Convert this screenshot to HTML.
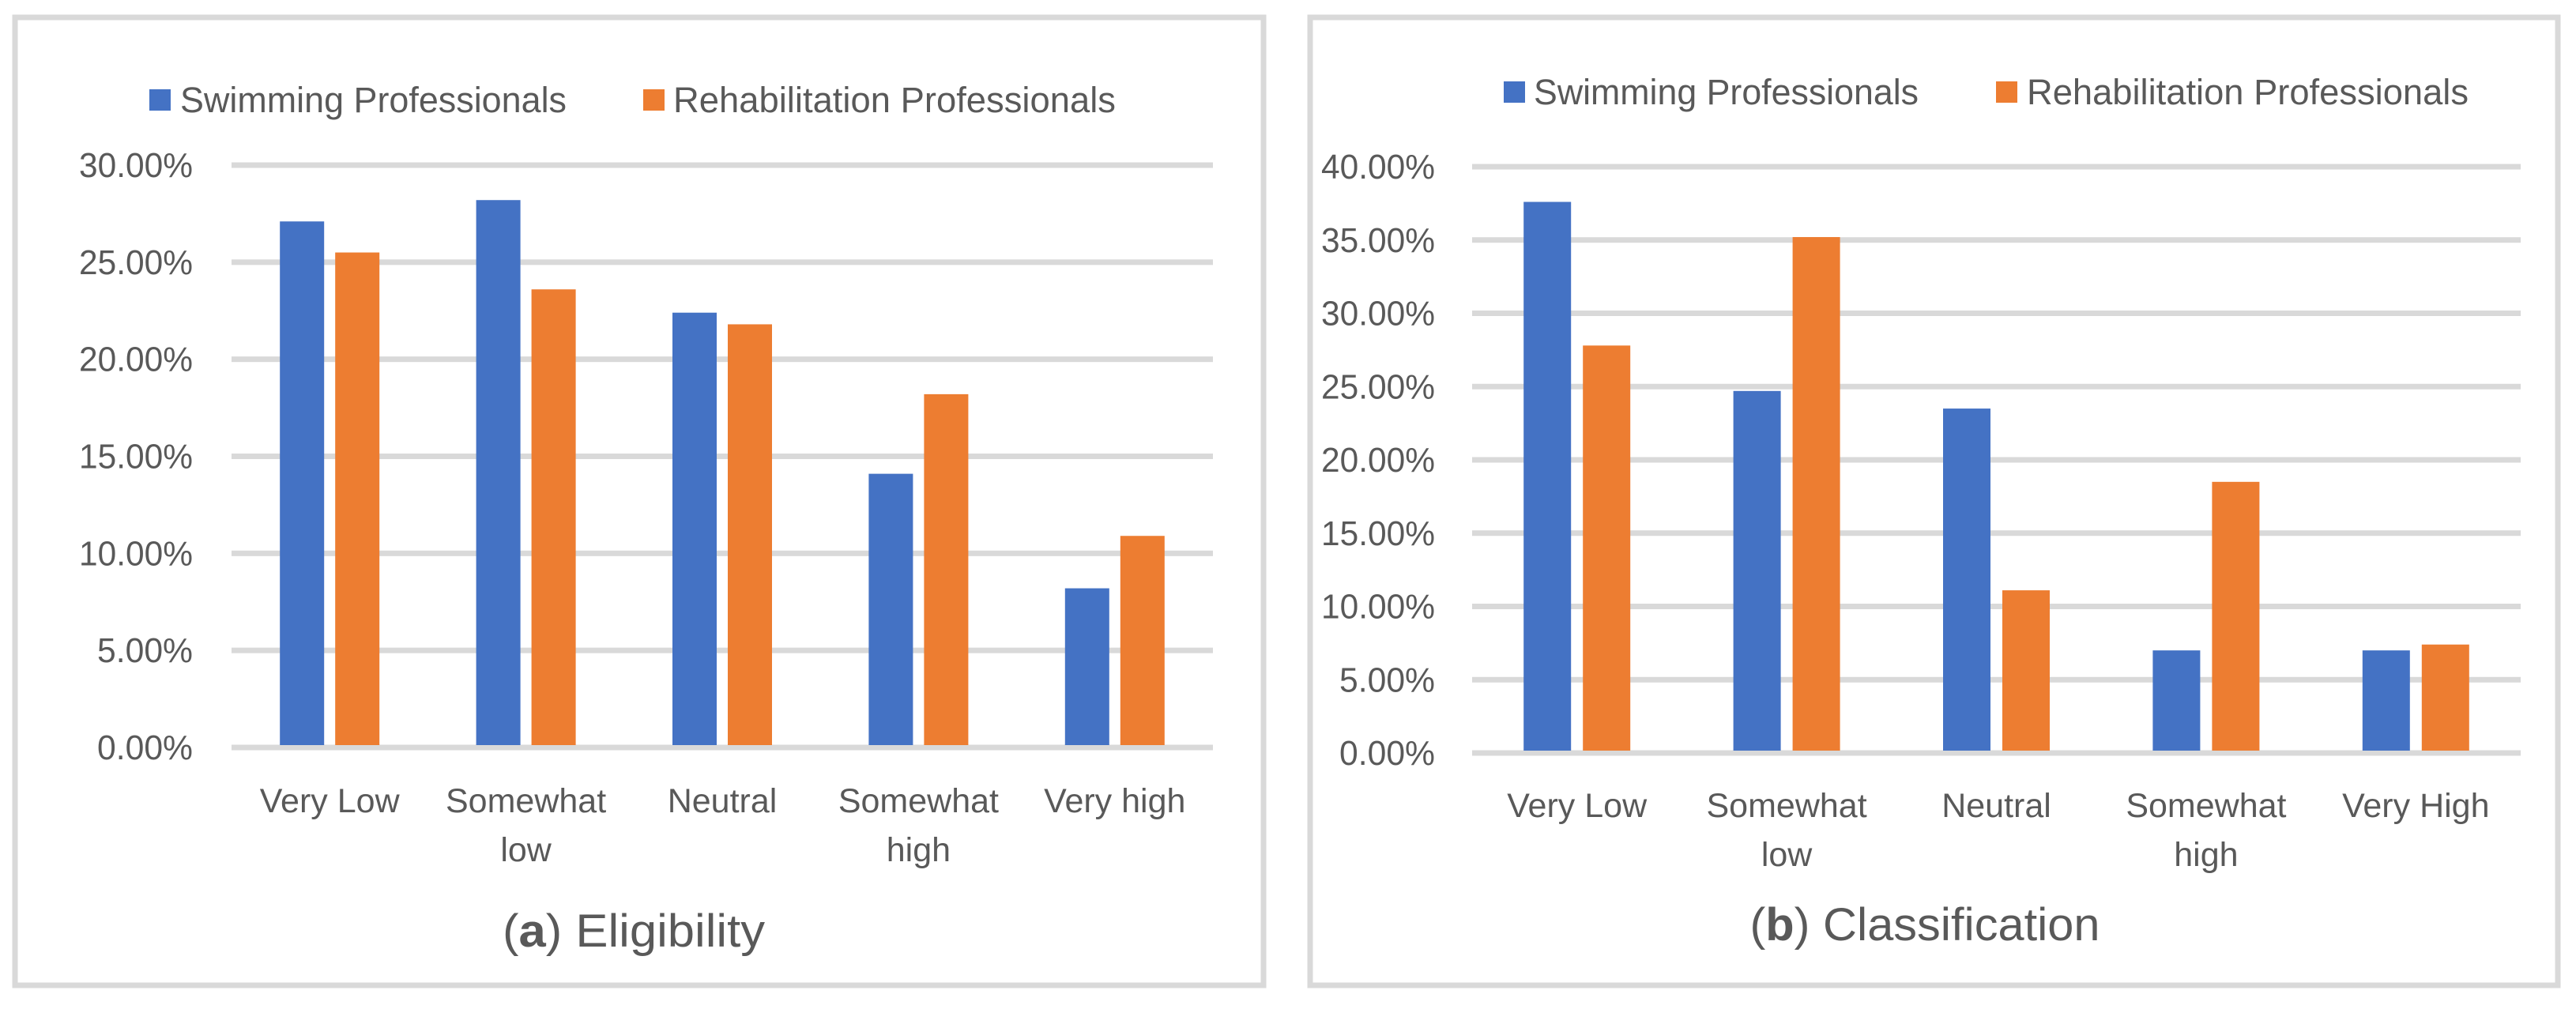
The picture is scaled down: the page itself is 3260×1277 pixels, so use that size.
<!DOCTYPE html>
<html><head><meta charset="utf-8"><style>
html,body{margin:0;padding:0;background:#fff;}
svg{display:block;}
text{font-family:"Liberation Sans",sans-serif;fill:#595959;}
</style></head><body>
<svg id="fig" width="3260" height="1277" viewBox="0 0 3260 1277" xmlns="http://www.w3.org/2000/svg">
<rect x="19" y="22" width="1580" height="1225" fill="#fff" stroke="#d9d9d9" stroke-width="7"/>
<rect x="1658" y="22" width="1579" height="1225" fill="#fff" stroke="#d9d9d9" stroke-width="7"/>
<g id="chartA"></g>
<g id="chartB"></g>
</svg>
<script>
const categoriesA = [["Very Low"],["Somewhat","low"],["Neutral"],["Somewhat","high"],["Very high"]];
const swimA = [27.1, 28.2, 22.4, 14.1, 8.2];
const rehabA = [25.5, 23.6, 21.8, 18.2, 10.9];
const ticksA = [0, 5, 10, 15, 20, 25, 30];
const tickLabelsA = ["0.00%","5.00%","10.00%","15.00%","20.00%","25.00%","30.00%"];

const categoriesB = [["Very Low"],["Somewhat","low"],["Neutral"],["Somewhat","high"],["Very High"]];
const swimB = [37.6, 24.7, 23.5, 7.0, 7.0];
const rehabB = [27.8, 35.2, 11.1, 18.5, 7.4];
const ticksB = [0, 5, 10, 15, 20, 25, 30, 35, 40];
const tickLabelsB = ["0.00%","5.00%","10.00%","15.00%","20.00%","25.00%","30.00%","35.00%","40.00%"];

const NS = "http://www.w3.org/2000/svg";
function mk(parent, tag, attrs, txt){
  const e = document.createElementNS(NS, tag);
  for (const k in attrs) e.setAttribute(k, attrs[k]);
  if (txt !== undefined) e.textContent = txt;
  parent.appendChild(e);
  return e;
}

function drawChart(g, cfg, cats, s1, s2, ticks, tickLabels, title, letter){
  const yScale = v => cfg.y0 - (v - 0) / cfg.vmax * (cfg.y0 - cfg.yTop);
  const bw = (cfg.x1 - cfg.x0) / cats.length;
  const xScale = i => cfg.x0 + bw * i;
  ticks.forEach((t, i) => {
    const y = yScale(t);
    const ln = mk(g, "rect", {x: cfg.x0, y: y - 3.5, width: cfg.x1 - cfg.x0, height: 7, fill: "#d9d9d9"});
    
    
    const lb = mk(g, "text", {x: cfg.tickX, y: y + 15, "text-anchor": "end", "font-size": 44, textLength: tickLabels[i].length > 5 ? 144 : 121, lengthAdjust: "spacingAndGlyphs"}, tickLabels[i]);
    
    
  });
  const total = cfg.barW * 2 + cfg.gap;
  cats.forEach((c, i) => {
    const bx = xScale(i) + (bw - total) / 2;
    const b1 = mk(g, "rect", {x: bx, y: yScale(s1[i]), width: cfg.barW, height: yScale(0) - yScale(s1[i]) - 3, fill: "#4472c4"});
    
    
    const b2 = mk(g, "rect", {x: bx + cfg.barW + cfg.gap, y: yScale(s2[i]), width: cfg.barW, height: yScale(0) - yScale(s2[i]) - 3, fill: "#ed7d31"});
    
    
    const cx = xScale(i) + bw / 2;
    c.forEach((line, j) => {
      const t = mk(g, "text", {x: cx, y: cfg.catY + j * 62 + 16, "text-anchor": "middle", "font-size": 43}, line);
      
      
    });
  });
  const l1 = mk(g, "rect", {x: cfg.leg[0], y: cfg.legY - 13, width: 27, height: 27, fill: "#4472c4"});
  
  
  const lt1 = mk(g, "text", {x: cfg.leg[1], y: cfg.legY + 16, "font-size": 45, textLength: cfg.leg[2], lengthAdjust: "spacingAndGlyphs"}, "Swimming Professionals");
  
  
  const l2 = mk(g, "rect", {x: cfg.leg[3], y: cfg.legY - 13, width: 27, height: 27, fill: "#ed7d31"});
  
  
  const lt2 = mk(g, "text", {x: cfg.leg[4], y: cfg.legY + 16, "font-size": 45, textLength: cfg.leg[5], lengthAdjust: "spacingAndGlyphs"}, "Rehabilitation Professionals");
  
  
  const tt = mk(g, "text", {x: cfg.titleX, y: cfg.titleY + 21, "text-anchor": "middle", "font-size": 58, textLength: cfg.titleW, lengthAdjust: "spacingAndGlyphs"});
  
  
  mk(tt, "tspan", {}, "(");
  mk(tt, "tspan", {"font-weight": "bold"}, letter);
  mk(tt, "tspan", {}, ") " + title);
}

drawChart(document.getElementById("chartA"),
  {x0: 293, x1: 1535, y0: 946, yTop: 209, vmax: 30, barW: 56, gap: 14, tickX: 244, catY: 1012,
   legY: 126, leg: [189, 228, 489, 814, 852, 560], titleX: 802, titleY: 1177, titleW: 332},
  categoriesA, swimA, rehabA, ticksA, tickLabelsA, "Eligibility", "a");

drawChart(document.getElementById("chartB"),
  {x0: 1863, x1: 3190, y0: 953, yTop: 211, vmax: 40, barW: 60, gap: 15, tickX: 1816, catY: 1018,
   legY: 116, leg: [1903, 1941, 487, 2526, 2565, 559], titleX: 2436, titleY: 1169, titleW: 443},
  categoriesB, swimB, rehabB, ticksB, tickLabelsB, "Classification", "b");
</script>
</body></html>
